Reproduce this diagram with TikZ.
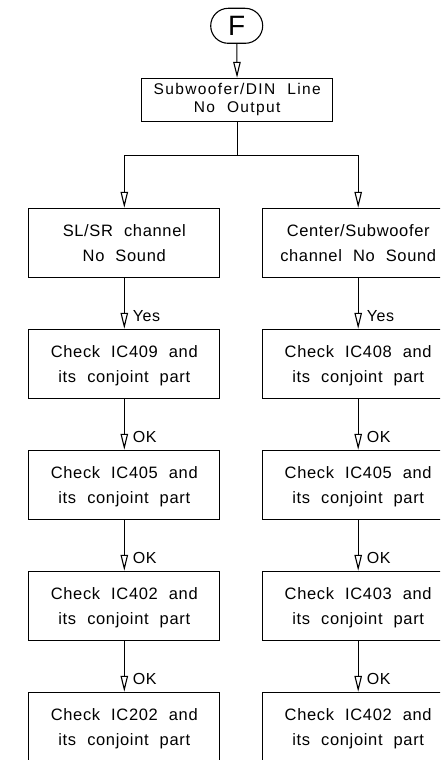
\documentclass[tikz,border=0pt]{standalone}
\usepackage{fontspec}
\setmainfont{Liberation Sans}[LetterSpace=4, WordSpace=2.1]
\newfontfamily\widefont{Liberation Sans}[LetterSpace=9, WordSpace=2.1]
\usetikzlibrary{arrows.meta}
\usetikzlibrary{shapes.misc}

\begin{document}
\begin{tikzpicture}[x=1pt, y=-1pt, line width=1.1pt,
		stepbox/.style={draw, rectangle, minimum width=191pt, minimum height=69pt,
			inner sep=0pt, align=center, text depth=-10pt, font=\fontsize{16.5}{25}\selectfont},
		faultbox/.style={draw, rectangle, minimum width=191pt, minimum height=42.7pt,
			inner sep=0pt, align=center, font=\widefont\fontsize{15.5}{17.6}\selectfont},
		flow/.style={-{Triangle[open, length=16pt, width=7.5pt]}},
		tag/.style={anchor=base west, inner sep=0pt, xshift=8pt, yshift=7pt,
			font=\fontsize{16}{18}\selectfont}]
		% Page frame
		\clip (0,0) rectangle (440,760);
		% Start terminal
		\node[draw, rounded rectangle, minimum width=52pt, minimum height=35pt,
			inner sep=0pt, font=\fontsize{28}{28}\selectfont] (start) at (236.7,25.8) {F};
		\node[faultbox] (fault) at (237.2,99.7) {Subwoofer/DIN Line\\No Output};
		% Left branch
		\node[stepbox] (sl) at (124.3,242.8) {SL/SR channel\\No Sound};
		\node[stepbox] (sla) at (124.3,363.8) {Check IC409 and\\its conjoint part};
		\node[stepbox] (slb) at (124.3,484.8) {Check IC405 and\\its conjoint part};
		\node[stepbox] (slc) at (124.3,605.8) {Check IC402 and\\its conjoint part};
		\node[stepbox] (sld) at (124.3,726.8) {Check IC202 and\\its conjoint part};
		% Right branch
		\node[stepbox] (cs) at (358.2,242.8) {Center/Subwoofer\\channel No Sound};
		\node[stepbox] (csa) at (358.2,363.8) {Check IC408 and\\its conjoint part};
		\node[stepbox] (csb) at (358.2,484.8) {Check IC405 and\\its conjoint part};
		\node[stepbox] (csc) at (358.2,605.8) {Check IC403 and\\its conjoint part};
		\node[stepbox] (csd) at (358.2,726.8) {Check IC402 and\\its conjoint part};
		% Split
		\coordinate (split) at (237.2,155.7);
		\draw[flow] (start) -- (fault);
		\draw (fault) -- (split);
		\draw[flow] (split) -| (sl);
		\draw[flow] (split) -| (cs);
		% Checks
		\draw[flow] (sl) -- (sla) node[tag, at end]{Yes};
		\draw[flow] (sla) -- (slb) node[tag, at end]{OK};
		\draw[flow] (slb) -- (slc) node[tag, at end]{OK};
		\draw[flow] (slc) -- (sld) node[tag, at end]{OK};
		\draw[flow] (cs) -- (csa) node[tag, at end]{Yes};
		\draw[flow] (csa) -- (csb) node[tag, at end]{OK};
		\draw[flow] (csb) -- (csc) node[tag, at end]{OK};
		\draw[flow] (csc) -- (csd) node[tag, at end]{OK};
	\end{tikzpicture}
\end{document}
